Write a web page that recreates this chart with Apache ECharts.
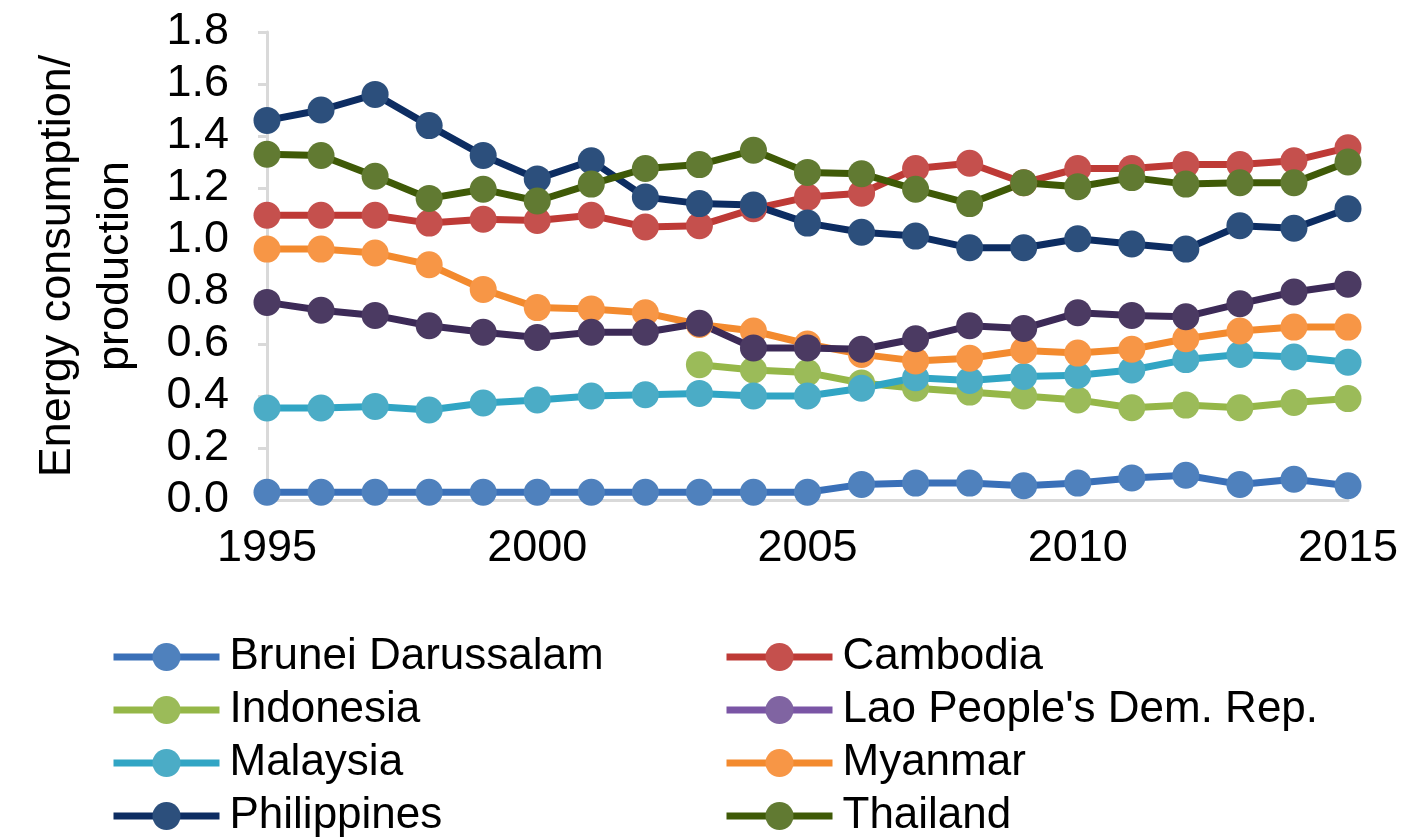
<!DOCTYPE html>
<html>
<head>
<meta charset="utf-8">
<script src="https://cdn.jsdelivr.net/npm/echarts@6/dist/echarts.min.js"></script>
<style>
html,body{margin:0;padding:0;background:#fff;}
#chart{width:1422px;height:837px;}
</style>
</head>
<body>
<div id="chart"></div>
<script>
const years = ['1995','1996','1997','1998','1999','2000','2001','2002','2003','2004','2005','2006','2007','2008','2009','2010','2011','2012','2013','2014','2015'];
const yTicks = [0, 1.8, 0.2];
const brunei = [0.03,0.03,0.03,0.03,0.03,0.03,0.03,0.03,0.03,0.03,0.03,0.06,0.065,0.065,0.055,0.065,0.085,0.095,0.06,0.08,0.055];
const cambodia = [1.095,1.095,1.095,1.065,1.08,1.075,1.095,1.05,1.055,1.12,1.165,1.18,1.275,1.295,1.22,1.275,1.275,1.29,1.29,1.305,1.355];
const indonesia = [null,null,null,null,null,null,null,null,0.52,0.50,0.49,0.45,0.43,0.415,0.40,0.385,0.355,0.365,0.355,0.375,0.39];
const lao = [0.76,0.73,0.71,0.67,0.645,0.625,0.645,0.645,0.68,0.585,0.585,0.58,0.62,0.67,0.66,0.72,0.71,0.705,0.755,0.80,0.83];
const malaysia = [0.354,0.354,0.36,0.346,0.373,0.385,0.40,0.405,0.41,0.40,0.40,0.43,0.47,0.46,0.475,0.48,0.50,0.54,0.56,0.55,0.53];
const myanmar = [0.965,0.965,0.95,0.905,0.81,0.74,0.735,0.72,0.675,0.65,0.60,0.56,0.535,0.545,0.575,0.565,0.58,0.62,0.65,0.665,0.665];
const philippines = [1.46,1.50,1.56,1.44,1.325,1.235,1.305,1.165,1.14,1.135,1.065,1.03,1.015,0.97,0.97,1.005,0.985,0.965,1.055,1.045,1.12];
const thailand = [1.33,1.325,1.245,1.16,1.195,1.15,1.215,1.275,1.29,1.345,1.26,1.255,1.195,1.14,1.22,1.205,1.24,1.215,1.22,1.22,1.30];

const names = ['Brunei Darussalam','Cambodia','Indonesia',"Lao People's Dem. Rep.",'Malaysia','Myanmar','Philippines','Thailand'];
const FONT = 'Liberation Sans, Arial, sans-serif';

function mk(name, data, lineColor, markColor) {
  return {
    name: name, type: 'line', data: data,
    symbol: 'circle', symbolSize: 27, showAllSymbol: true,
    connectNulls: false,
    lineStyle: { color: lineColor, width: 7 },
    itemStyle: { color: markColor, borderWidth: 0 },
    emphasis: { disabled: true },
    animation: false
  };
}

const chart = echarts.init(document.getElementById('chart'));
const legendCommon = {
  orient: 'vertical', top: 635, padding: 0, height: 240, itemWidth: 106, itemHeight: 35, itemGap: 9,
  lineStyle: { width: 7 },
  textStyle: { fontFamily: FONT, fontSize: 44, color: '#000', padding: [0,0,0,5] },
  selectedMode: false
};
chart.setOption({
  backgroundColor: '#fff',
  animation: false,
  grid: { left: 267, right: 74, top: 32, bottom: 337, containLabel: false },
  xAxis: {
    type: 'category', data: years, boundaryGap: false,
    axisLine: { show: true, lineStyle: { color: '#d9d9d9', width: 3 } },
    axisTick: { show: false },
    axisLabel: { interval: 4, margin: 26, fontFamily: FONT, fontSize: 45, color: '#000' },
    splitLine: { show: false }
  },
  yAxis: {
    type: 'value', min: yTicks[0], max: yTicks[1], interval: yTicks[2],
    name: 'Energy consumption/\nproduction', nameLocation: 'middle', nameRotate: 90, nameGap: 122,
    nameTextStyle: { fontFamily: FONT, fontSize: 45, color: '#000', lineHeight: 58 },
    axisLine: { show: true, lineStyle: { color: '#d9d9d9', width: 3 } },
    axisTick: { show: true, length: 9, lineStyle: { color: '#d9d9d9', width: 3 } },
    axisLabel: { margin: 38, fontFamily: FONT, fontSize: 45, color: '#000', formatter: v => v.toFixed(1) },
    splitLine: { show: false }
  },
  legend: [
    Object.assign({}, legendCommon, { left: 110, data: [names[0], names[2], names[4], names[6]] }),
    Object.assign({}, legendCommon, { left: 723, data: [names[1],
      { name: names[3], itemStyle: { color: '#8064a2' }, lineStyle: { color: '#7a55a5', width: 7 } },
      names[5], names[7]] })
  ],
  series: [
    mk(names[0], brunei, '#3a70b8', '#4f81bd'),
    mk(names[1], cambodia, '#be3a36', '#c5504d'),
    mk(names[2], indonesia, '#95b748', '#9bbb59'),
    mk(names[4], malaysia, '#31a5c4', '#4bacc6'),
    mk(names[5], myanmar, '#f38a2e', '#f79646'),
    mk(names[3], lao, '#3c2a57', '#4b3a62'),
    mk(names[6], philippines, '#0d2d62', '#2c4f7c'),
    mk(names[7], thailand, '#3f5a07', '#617a32')
  ]
});
</script>
</body>
</html>
